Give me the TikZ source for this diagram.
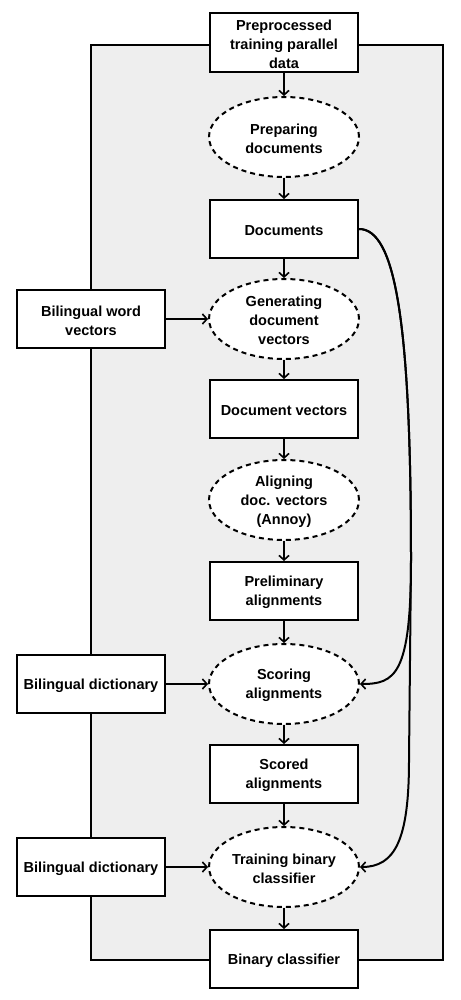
\documentclass[tikz,border=0pt]{standalone}
\usepackage{fontspec}
\setmainfont{Liberation Sans}
\usetikzlibrary{shapes.geometric,arrows.meta}
\definecolor{bggray}{HTML}{EEEEEE}
\begin{document}
\begin{tikzpicture}[x=1pt,y=-1pt,line width=2pt,
  font=\fontsize{14.5}{19}\selectfont\bfseries,
  box/.style={draw,fill=white,minimum width=148pt,minimum height=58pt,inner sep=0pt},
  txt/.style={align=center,inner sep=0pt,yshift=-1.5pt},
  ell/.style={draw,ellipse,fill=white,dash pattern=on 5pt off 4pt,minimum width=150pt,minimum height=80pt,inner sep=0pt},
  arr/.style={-{Straight Barb[length=4.5pt,width=10pt,line width=1.6pt]}}]
\useasboundingbox (0,0) rectangle (460,1000);
\draw[fill=bggray] (91,45) rectangle (443,960);
% centre column
\node[box,minimum height=59pt] (top) at (284,42.5) {};
\node[txt] (t0) at (top) {Preprocessed\\training parallel\\data};
\node[ell] (e1) at (284,137) {};
\node[txt] (t1) at (e1) {Preparing\\documents};
\node[box] (docs) at (284,229) {};
\node[txt] (tdocs) at (docs) {Documents};
\node[ell] (e2) at (284,319) {};
\node[txt] (t2) at (e2) {Generating\\document\\vectors};
\node[box] (docvec) at (284,409) {};
\node[txt] (tdocvec) at (docvec) {Document vectors};
\node[ell] (e3) at (284,500) {};
\node[txt] (t3) at (e3) {Aligning\\doc. vectors\\(Annoy)};
\node[box] (prelim) at (284,591) {};
\node[txt] (tprelim) at (prelim) {Preliminary\\alignments};
\node[ell] (e4) at (284,684) {};
\node[txt] (t4) at (e4) {Scoring\\alignments};
\node[box] (scored) at (284,774) {};
\node[txt] (tscored) at (scored) {Scored\\alignments};
\node[ell] (e5) at (284,867) {};
\node[txt] (t5) at (e5) {Training binary\\classifier};
\node[box] (bin) at (284,959) {};
\node[txt] (tbin) at (bin) {Binary classifier};
% left inputs
\node[box] (bwv) at (91,319) {};
\node[txt] (tbwv) at (bwv) {Bilingual word\\vectors};
\node[box] (bd1) at (91,684) {};
\node[txt] (tbd1) at (bd1) {Bilingual dictionary};
\node[box] (bd2) at (91,867) {};
\node[txt] (tbd2) at (bd2) {Bilingual dictionary};
% vertical arrows
\draw[arr] (top) -- (e1);
\draw[arr] (e1) -- (docs);
\draw[arr] (docs) -- (e2);
\draw[arr] (e2) -- (docvec);
\draw[arr] (docvec) -- (e3);
\draw[arr] (e3) -- (prelim);
\draw[arr] (prelim) -- (e4);
\draw[arr] (e4) -- (scored);
\draw[arr] (scored) -- (e5);
\draw[arr] (e5) -- (bin);
% side arrows
\draw[arr] (bwv) -- (e2);
\draw[arr] (bd1) -- (e4);
\draw[arr] (bd2) -- (e5);
% curved connectors
\draw[arr] (docs.east) .. controls (395,229) and (411,320) .. (411,560)
  .. controls (411,675) and (395,684) .. (e4.east);
\draw[arr] (docs.east) .. controls (395,229) and (411,320) .. (411,560)
  -- (409,760) .. controls (409,840) and (395,867) .. (e5.east);
\end{tikzpicture}
\end{document}
